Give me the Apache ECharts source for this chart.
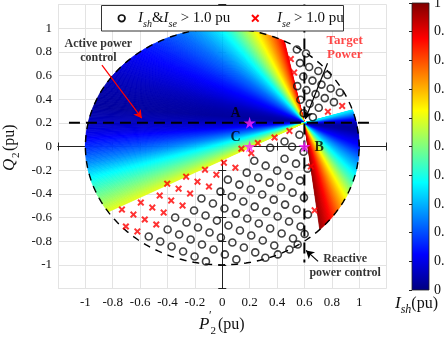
<!DOCTYPE html>
<html>
<head>
<meta charset="utf-8">
<script src="https://cdn.jsdelivr.net/npm/echarts@6/dist/echarts.min.js"></script>
<style>
html,body{margin:0;padding:0;background:#fff;}
#chart{width:444px;height:341px;}
</style>
</head>
<body>
<div id="chart"></div>
<script>
// Operating point and the UPFC feasible circle (centre at origin)
const targetPower = [0.6, 0.2];
const circleRadius = 1;

const axisTicks = [-1, -0.8, -0.6, -0.4, -0.2, 0, 0.2, 0.4, 0.6, 0.8, 1];
const barTicks = [0, 0.1, 0.2, 0.3, 0.4, 0.5, 0.6, 0.7, 0.8, 0.9, 1];

// Shunt current I_sh along rays leaving the target point (angle in degrees)
const upperFanAngles = [101.9, 104, 107, 110, 114, 118, 122, 126, 130, 135, 140, 145, 150, 155, 160, 165, 170, 175, 180, 184, 188, 192, 196, 200, 204, 207.7];
const upperFanIsh    = [0.90, 0.85, 0.78, 0.72, 0.64, 0.56, 0.48, 0.40, 0.34, 0.28, 0.23, 0.19, 0.15, 0.12, 0.09, 0.06, 0.04, 0.03, 0.06, 0.11, 0.18, 0.26, 0.36, 0.44, 0.52, 0.60];
const lowerFanAngles = [277.1, 280, 284, 288, 292, 296, 300, 305, 310, 315, 320, 325, 330, 335, 340, 345, 350, 355, 360, 364, 368, 372, 377.4];
const lowerFanIsh    = [0.98, 0.93, 0.86, 0.78, 0.70, 0.62, 0.54, 0.45, 0.38, 0.32, 0.27, 0.22, 0.17, 0.13, 0.10, 0.07, 0.04, 0.03, 0.05, 0.10, 0.18, 0.26, 0.36];

// Operating points where both converter currents exceed 1.0 pu
const bothOverPoints = [
  // lower region
  [-0.537,-0.760],[-0.453,-0.803],[-0.370,-0.845],[-0.286,-0.887],[-0.202,-0.929],[-0.119,-0.971],
  [-0.399,-0.701],[-0.315,-0.744],[-0.231,-0.786],[-0.148,-0.828],[-0.064,-0.870],[0.019,-0.912],[0.103,-0.954],
  [-0.344,-0.600],[-0.261,-0.642],[-0.177,-0.685],[-0.093,-0.727],[-0.010,-0.769],[0.074,-0.811],[0.158,-0.853],[0.241,-0.895],[0.315,-0.940],
  [-0.206,-0.541],[-0.122,-0.583],[-0.039,-0.626],[0.045,-0.668],[0.129,-0.710],[0.212,-0.752],[0.296,-0.794],[0.380,-0.836],[0.491,-0.870],[0.406,-0.912],
  [-0.152,-0.440],[-0.068,-0.482],[0.016,-0.524],[0.099,-0.567],[0.183,-0.609],[0.267,-0.651],[0.350,-0.693],[0.434,-0.735],[0.517,-0.777],[0.551,-0.828],
  [-0.013,-0.381],[0.070,-0.423],[0.154,-0.465],[0.237,-0.508],[0.321,-0.550],[0.405,-0.592],[0.488,-0.634],[0.572,-0.676],[0.602,-0.740],
  [0.041,-0.280],[0.125,-0.322],[0.208,-0.364],[0.292,-0.406],[0.376,-0.449],[0.459,-0.491],[0.543,-0.533],[0.626,-0.575],
  [0.179,-0.221],[0.263,-0.263],[0.346,-0.305],[0.430,-0.347],[0.514,-0.390],[0.597,-0.432],
  [0.234,-0.120],[0.317,-0.162],[0.401,-0.204],[0.485,-0.246],[0.568,-0.288],
  [0.350,-0.010],[0.455,-0.103],[0.539,-0.145],[0.623,-0.187],
  [0.455,0.042],[0.510,-0.002],[0.594,-0.044],[0.564,0.099],
  // upper-right region
  [0.545,0.820],[0.612,0.786],[0.568,0.705],[0.635,0.672],[0.702,0.638],[0.769,0.604],
  [0.592,0.591],[0.659,0.557],[0.725,0.523],[0.792,0.490],[0.859,0.456],
  [0.548,0.510],[0.615,0.476],[0.682,0.443],[0.749,0.409],[0.816,0.375],
  [0.571,0.395],[0.638,0.362],[0.705,0.328],[0.595,0.281],[0.662,0.247]
];
// Operating points where only the series current exceeds 1.0 pu
const seOverPoints = [
  [-0.704,-0.676],[-0.620,-0.718],
  [-0.733,-0.533],[-0.649,-0.575],[-0.566,-0.617],[-0.482,-0.659],
  [-0.595,-0.474],[-0.511,-0.516],[-0.428,-0.558],
  [-0.457,-0.415],[-0.373,-0.457],[-0.290,-0.499],
  [-0.402,-0.314],[-0.319,-0.356],[-0.235,-0.398],
  [-0.264,-0.255],[-0.181,-0.297],[-0.097,-0.339],
  [-0.126,-0.196],[-0.043,-0.238],
  [0.012,-0.137],[0.096,-0.179],
  [0.140,-0.019],[0.212,-0.056],[0.260,0.029],[0.382,0.076],[0.491,0.132],
  [0.675,-0.539],[0.648,-0.168],
  [0.501,0.739],[0.525,0.625],[0.772,0.294],[0.876,0.343]
];

// Marked operating points
const pointNames = ['A', 'B', 'C'];
const pointP = [0.2, 0.6, 0.2];
const pointQ = [0.2, 0.0, 0.0];

const serif = "'Liberation Serif','Times New Roman',serif";

// MATLAB-style jet colour map
const jetStops = [[0,[0,0,127]],[0.125,[0,0,255]],[0.375,[0,255,255]],[0.625,[255,255,0]],[0.875,[255,0,0]],[1,[127,0,0]]];
function jet(v) {
  v = Math.max(0, Math.min(1, v));
  for (let k = 1; k < jetStops.length; k++) {
    if (v <= jetStops[k][0]) {
      const a = jetStops[k-1], b = jetStops[k];
      const t = (v - a[0]) / (b[0] - a[0]);
      return 'rgb(' + a[1].map((c, i) => Math.round(c + (b[1][i] - c) * t)).join(',') + ')';
    }
  }
  return 'rgb(127,0,0)';
}

// Where a ray from the target point meets the feasible circle
function rayEnd(deg) {
  const t = deg * Math.PI / 180, dx = Math.cos(t), dy = Math.sin(t);
  const b = targetPower[0]*dx + targetPower[1]*dy;
  const c = targetPower[0]*targetPower[0] + targetPower[1]*targetPower[1] - circleRadius*circleRadius;
  const s = -b + Math.sqrt(b*b - c);
  return [targetPower[0] + s*dx, targetPower[1] + s*dy];
}

function fanSegments(angles, vals) {
  const out = [];
  for (let i = 0; i < angles.length - 1; i++) out.push([angles[i], vals[i], angles[i+1], vals[i+1]]);
  return out;
}
const fanData = fanSegments(upperFanAngles, upperFanIsh).concat(fanSegments(lowerFanAngles, lowerFanIsh));

function renderFan(params, api) {
  const a1 = api.value(0), v1 = api.value(1), a2 = api.value(2), v2 = api.value(3);
  const steps = Math.max(1, Math.ceil(Math.abs(a2 - a1) / 0.4));
  const origin = api.coord(targetPower);
  const children = [];
  for (let k = 0; k < steps; k++) {
    const s = a1 + (a2 - a1) * k / steps, e = a1 + (a2 - a1) * (k + 1) / steps;
    const col = jet(v1 + (v2 - v1) * (k + 0.5) / steps);
    children.push({
      type: 'polygon',
      shape: { points: [origin, api.coord(rayEnd(s)), api.coord(rayEnd(e))] },
      style: { fill: col, stroke: col, lineWidth: 0.7 }
    });
  }
  return { type: 'group', children };
}

function renderCircle(params, api) {
  const pts = [];
  for (let d = 0; d <= 360; d += 2) {
    const t = d * Math.PI / 180;
    pts.push(api.coord([circleRadius * Math.cos(t), circleRadius * Math.sin(t)]));
  }
  return { type: 'polyline', shape: { points: pts },
    style: { stroke: '#000', lineWidth: 1.4, lineDash: [7, 6], fill: null } };
}

function renderBar(params, api) {
  const p0 = api.coord([0, 1]), p1 = api.coord([1, 0]);
  return {
    type: 'rect',
    shape: { x: p0[0], y: p0[1], width: p1[0] - p0[0], height: p1[1] - p0[1] },
    style: {
      fill: new echarts.graphic.LinearGradient(0, 1, 0, 0,
        jetStops.map(s => ({ offset: s[0], color: 'rgb(' + s[1].join(',') + ')' }))),
      stroke: '#222', lineWidth: 0.8
    }
  };
}

const tickFmt = v => {
  const r = Math.round(v * 10) / 10;
  return axisTicks.indexOf(r) >= 0 ? String(r) : '';
};

const axisCommon = {
  type: 'value', min: -1.2, max: 1.2, interval: 0.2,
  axisLine: { show: true, lineStyle: { color: '#222', width: 1 } },
  axisTick: { show: true, inside: true, length: 4, lineStyle: { color: '#222' } }
};

const crossPath = 'path://M0,2 L2,0 L5,3 L8,0 L10,2 L7,5 L10,8 L8,10 L5,7 L2,10 L0,8 L3,5 Z';
const starPath = 'path://M50,0 L61,35 L98,35 L68,57 L79,91 L50,70 L21,91 L32,57 L2,35 L39,35 Z';

const chart = echarts.init(document.getElementById('chart'), null, { renderer: 'canvas' });
chart.setOption({
  animation: false,
  backgroundColor: '#fff',
  grid: [
    { left: 58, top: 4.5, width: 328.5, height: 284, outerBoundsMode: 'none', containLabel: false },
    { left: 412, top: 3, width: 17, height: 287, outerBoundsMode: 'none', containLabel: false }
  ],
  xAxis: [
    Object.assign({}, axisCommon, { gridIndex: 0, position: 'bottom',
      axisLabel: { formatter: tickFmt, fontFamily: serif, fontSize: 13, color: '#111', margin: 8 },
      splitLine: { show: true, lineStyle: { color: '#e3e3e3', width: 1 } } }),
    Object.assign({}, axisCommon, { gridIndex: 0, position: 'top', axisLabel: { show: false }, splitLine: { show: false } }),
    { type: 'value', gridIndex: 1, min: 0, max: 1, show: false }
  ],
  yAxis: [
    Object.assign({}, axisCommon, { gridIndex: 0, position: 'left',
      axisLabel: { formatter: tickFmt, fontFamily: serif, fontSize: 13, color: '#111', margin: 6 },
      splitLine: { show: true, lineStyle: { color: '#e3e3e3', width: 1 } } }),
    Object.assign({}, axisCommon, { gridIndex: 0, position: 'right', axisLabel: { show: false }, splitLine: { show: false } }),
    { type: 'value', gridIndex: 1, min: 0, max: 1, interval: 0.1, position: 'right',
      axisLine: { show: false }, splitLine: { show: false },
      axisTick: { show: true, inside: true, length: 3, lineStyle: { color: '#222' } },
      axisLabel: { fontFamily: serif, fontSize: 14, color: '#111', margin: 5,
        formatter: v => { const r = Math.round(v * 10) / 10; return barTicks.indexOf(r) >= 0 ? String(r) : ''; } } }
  ],
  series: [
    { type: 'custom', name: 'fan', xAxisIndex: 0, yAxisIndex: 0, renderItem: renderFan, data: fanData, z: 1, silent: true, clip: true },
    { type: 'custom', name: 'circle', xAxisIndex: 0, yAxisIndex: 0, renderItem: renderCircle, data: [[0, 0]], z: 2, silent: true },
    { type: 'scatter', name: 'bothOver', xAxisIndex: 0, yAxisIndex: 0, data: bothOverPoints, symbol: 'circle', symbolSize: 7,
      itemStyle: { color: 'rgba(0,0,0,0)', borderColor: '#111', borderWidth: 1.6 }, z: 3, silent: true },
    { type: 'scatter', name: 'seOver', xAxisIndex: 0, yAxisIndex: 0, data: seOverPoints, symbol: crossPath, symbolSize: 7,
      itemStyle: { color: '#ff0000' }, z: 3, silent: true },
    { type: 'line', name: 'pLine', xAxisIndex: 0, yAxisIndex: 0, symbol: 'none', silent: true, z: 4,
      data: [[-1.12, targetPower[1]], [1.1, targetPower[1]]], lineStyle: { color: '#000', width: 2, type: [11, 6] } },
    { type: 'line', name: 'qLine', xAxisIndex: 0, yAxisIndex: 0, symbol: 'none', silent: true, z: 4,
      data: [[targetPower[0], 1.2], [targetPower[0], -0.98]], lineStyle: { color: '#000', width: 2, type: [11, 6] } },
    { type: 'scatter', name: 'points', xAxisIndex: 0, yAxisIndex: 0, symbol: starPath, symbolSize: 12, z: 6, silent: true,
      itemStyle: { color: '#ff22ff' },
      data: pointNames.map((n, i) => ({
        value: [pointP[i], pointQ[i]], name: n,
        label: { show: true, formatter: n, fontFamily: serif, fontWeight: 'bold', fontSize: 14, color: '#000',
          position: n === 'B' ? 'right' : 'left', offset: n === 'B' ? [-1, 1] : [2, -9] }
      })) },
    { type: 'scatter', name: 'notes', xAxisIndex: 0, yAxisIndex: 0, symbolSize: 0, z: 7, silent: true,
      label: { show: true, position: 'inside', fontFamily: serif, fontWeight: 'bold', fontSize: 12, lineHeight: 14 },
      data: [
        { value: [-0.905, 0.804], label: { formatter: 'Active power\ncontrol', color: '#000' } },
        { value: [0.895, 0.832], label: { formatter: 'Target\nPower', color: '#ff1a1a', fontSize: 13 } },
        { value: [0.898, -1.013], label: { formatter: 'Reactive\npower control', color: '#000' } }
      ],
      markLine: {
        silent: true, symbol: ['none', 'arrow'], symbolSize: [7, 8], label: { show: false },
        data: [
          [{ coord: [-0.879, 0.688], lineStyle: { color: '#ff0000', width: 1.2, type: 'solid' } }, { coord: [-0.588, 0.239] }],
          [{ coord: [0.769, 0.703], lineStyle: { color: '#000', width: 1.2, type: 'solid' } }, { coord: [0.607, 0.232] }],
          [{ coord: [0.70, -0.971], lineStyle: { color: '#000', width: 1.2, type: 'solid' } }, { coord: [0.612, -0.878] }]
        ]
      } },
    { type: 'custom', name: 'colorbar', xAxisIndex: 2, yAxisIndex: 2, renderItem: renderBar, data: [[0, 0]], silent: true }
  ],
  graphic: [
    // legend box
    { type: 'rect', shape: { x: 101.5, y: 5.5, width: 242, height: 25.5 },
      style: { fill: '#fff', stroke: '#333', lineWidth: 1 }, z: 100 },
    { type: 'circle', shape: { cx: 121.7, cy: 18.3, r: 3.3 },
      style: { fill: 'none', stroke: '#111', lineWidth: 1.7 }, z: 101 },
    { type: 'text', x: 138, y: 18, z: 101,
      style: { text: '{i|I}{s|sh}{n|&}{i|I}{s|se}{n| > 1.0 pu}', textVerticalAlign: 'middle', fill: '#111',
        rich: { i: { fontFamily: serif, fontStyle: 'italic', fontSize: 15, lineHeight: 22 },
                s: { fontFamily: serif, fontStyle: 'italic', fontSize: 10, lineHeight: 22, padding: [12, 0, 0, 0] },
                n: { fontFamily: serif, fontSize: 15, lineHeight: 22 } } } },
    { type: 'line', z: 101, shape: { x1: 252, y1: 15, x2: 258.6, y2: 21.6 }, style: { stroke: '#ff0000', lineWidth: 2 } },
    { type: 'line', z: 101, shape: { x1: 258.6, y1: 15, x2: 252, y2: 21.6 }, style: { stroke: '#ff0000', lineWidth: 2 } },
    { type: 'text', x: 277, y: 18, z: 101,
      style: { text: '{i|I}{s|se}{n| > 1.0 pu}', textVerticalAlign: 'middle', fill: '#111',
        rich: { i: { fontFamily: serif, fontStyle: 'italic', fontSize: 15, lineHeight: 22 },
                s: { fontFamily: serif, fontStyle: 'italic', fontSize: 10, lineHeight: 22, padding: [12, 0, 0, 0] },
                n: { fontFamily: serif, fontSize: 15, lineHeight: 22 } } } },
    // x-axis title P'2(pu)
    { type: 'group', x: 0, y: 0, children: [
      { type: 'text', x: 199, y: 325, style: { text: 'P', font: 'italic 17px ' + serif, fill: '#111', textVerticalAlign: 'middle' } },
      { type: 'text', x: 209, y: 316, style: { text: '\u2032', font: '12px ' + serif, fill: '#111', textVerticalAlign: 'middle' } },
      { type: 'text', x: 210.5, y: 331, style: { text: '2', font: '11px ' + serif, fill: '#111', textVerticalAlign: 'middle' } },
      { type: 'text', x: 218, y: 325, style: { text: '(pu)', font: '16px ' + serif, fill: '#111', textVerticalAlign: 'middle' } }
    ] },
    // y-axis title Q'2(pu)
    { type: 'group', x: 10, y: 147, rotation: Math.PI / 2, children: [
      { type: 'text', x: -24, y: 0, style: { text: 'Q', font: 'italic 17px ' + serif, fill: '#111', textVerticalAlign: 'middle' } },
      { type: 'text', x: -12, y: -8, style: { text: '\u2032', font: '12px ' + serif, fill: '#111', textVerticalAlign: 'middle' } },
      { type: 'text', x: -11, y: 6, style: { text: '2', font: '11px ' + serif, fill: '#111', textVerticalAlign: 'middle' } },
      { type: 'text', x: -4, y: 0, style: { text: '(pu)', font: '16px ' + serif, fill: '#111', textVerticalAlign: 'middle' } }
    ] },
    // colour bar title I_sh(pu)
    { type: 'text', x: 395, y: 304,
      style: { text: '{i|I}{s|sh}{n|(pu)}', textVerticalAlign: 'middle', fill: '#111',
        rich: { i: { fontFamily: serif, fontStyle: 'italic', fontSize: 17, lineHeight: 24 },
                s: { fontFamily: serif, fontStyle: 'italic', fontSize: 12, lineHeight: 24, padding: [12, 0, 0, 0] },
                n: { fontFamily: serif, fontSize: 16, lineHeight: 24 } } } }
  ]
});
</script>
</body>
</html>
